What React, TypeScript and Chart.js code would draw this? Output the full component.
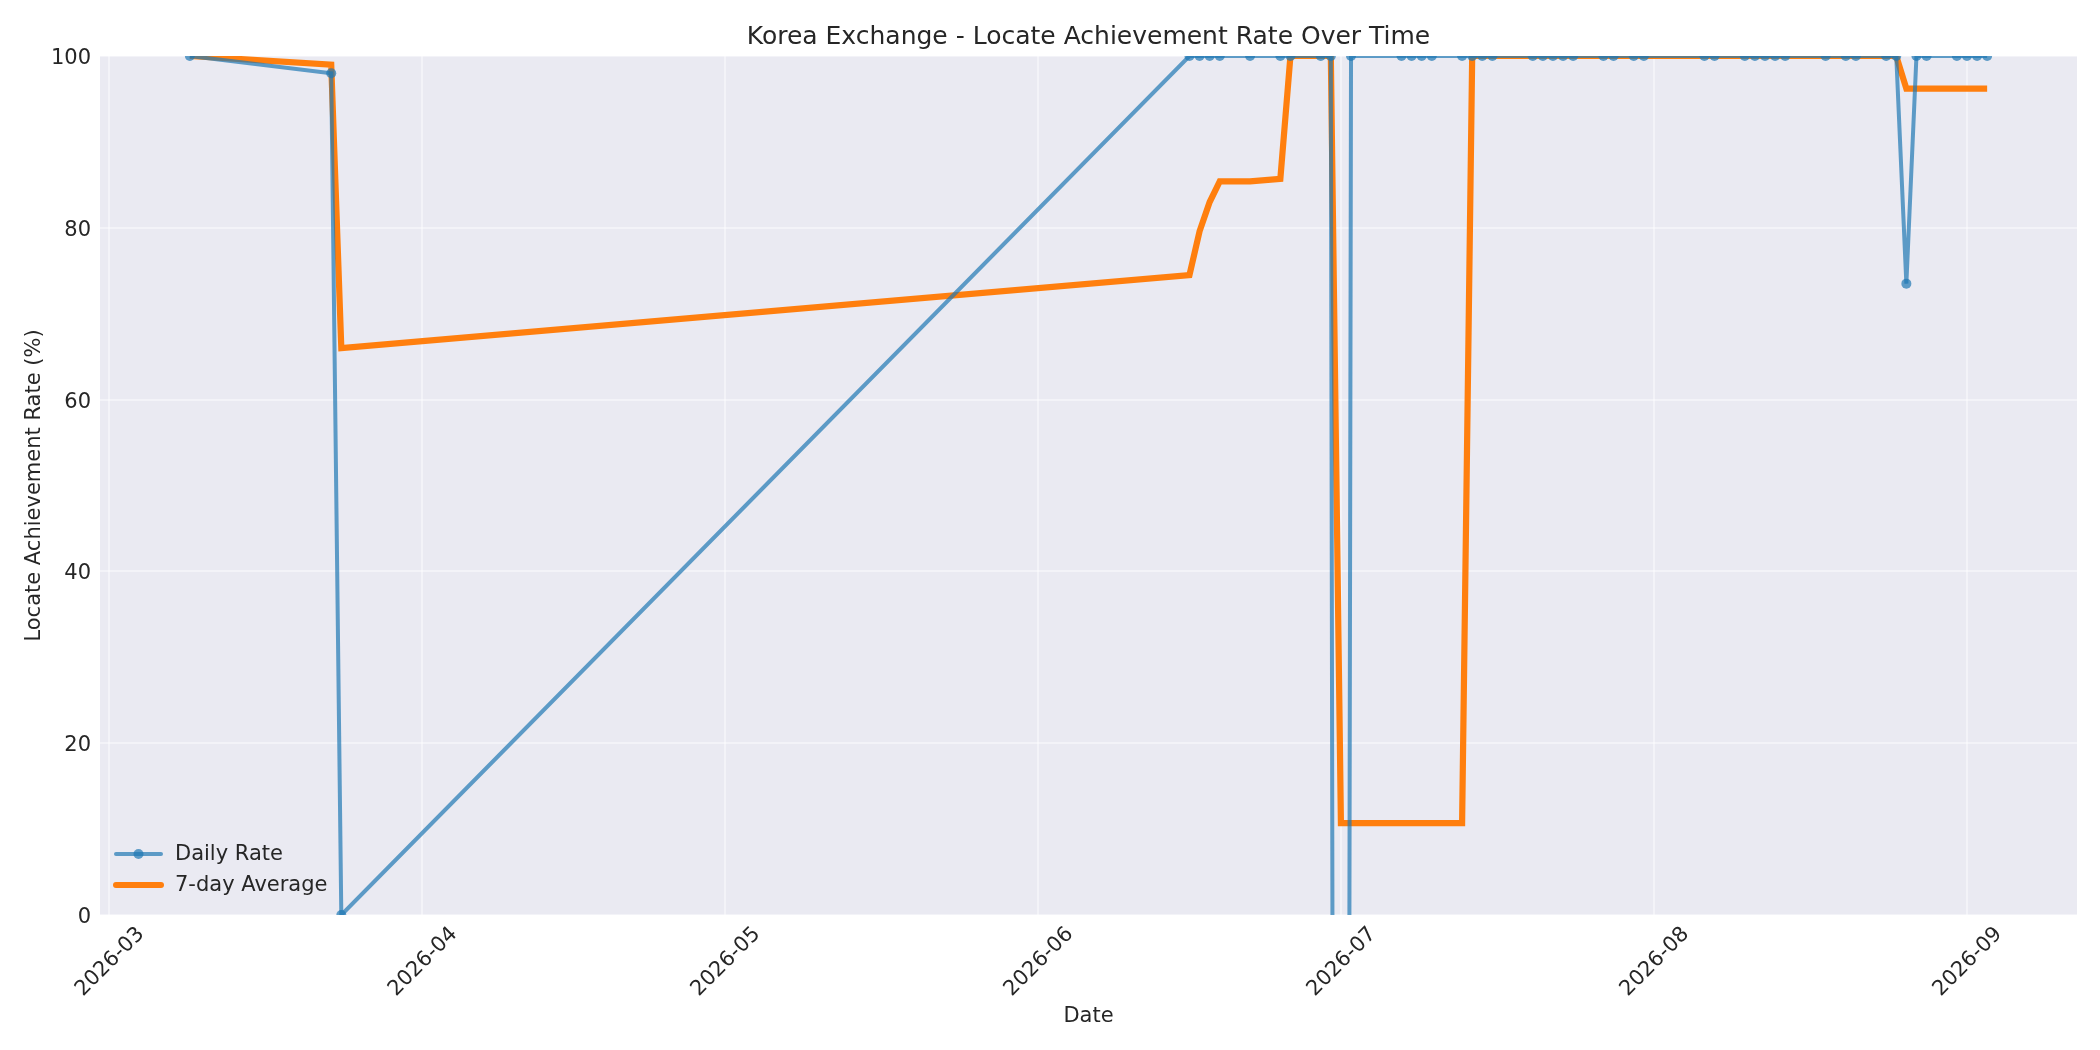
import React, { useEffect, useRef } from "react";
import { Chart, registerables } from "chart.js";

Chart.register(...registerables);

// trading days shown on the chart
const DATES = [
  "2026-03-09", "2026-03-23", "2026-03-24",
  "2026-06-16", "2026-06-17", "2026-06-18", "2026-06-19",
  "2026-06-22", "2026-06-25", "2026-06-26",
  "2026-06-29", "2026-06-30", "2026-07-01", "2026-07-02",
  "2026-07-07", "2026-07-08", "2026-07-09", "2026-07-10",
  "2026-07-13", "2026-07-14", "2026-07-15", "2026-07-16",
  "2026-07-20", "2026-07-21", "2026-07-22", "2026-07-23", "2026-07-24",
  "2026-07-27", "2026-07-28", "2026-07-30", "2026-07-31",
  "2026-08-06", "2026-08-07",
  "2026-08-10", "2026-08-11", "2026-08-12", "2026-08-13", "2026-08-14",
  "2026-08-18", "2026-08-20", "2026-08-21",
  "2026-08-24", "2026-08-25", "2026-08-26", "2026-08-27", "2026-08-28",
  "2026-08-31", "2026-09-01", "2026-09-02", "2026-09-03",
];

// daily locate achievement rate (%); Jul 1 falls far below the axis
const DAILY_RATE = [
  100, 98, 0,
  100, 100, 100, 100,
  100, 100, 100,
  100, 100, -525, 100,
  100, 100, 100, 100,
  100, 100, 100, 100,
  100, 100, 100, 100, 100,
  100, 100, 100, 100,
  100, 100,
  100, 100, 100, 100, 100,
  100, 100, 100,
  100, 100, 73.5, 100, 100,
  100, 100, 100, 100,
];

// 7-day average
const AVG_7D = [
  100, 99, 66,
  74.5, 79.6, 83, 85.4,
  85.4, 85.7, 100,
  100, 100, 10.7, 10.7,
  10.7, 10.7, 10.7, 10.7,
  10.7, 100, 100, 100,
  100, 100, 100, 100, 100,
  100, 100, 100, 100,
  100, 100,
  100, 100, 100, 100, 100,
  100, 100, 100,
  100, 100, 96.2, 96.2, 96.2,
  96.2, 96.2, 96.2, 96.2,
];

const X_TICK_LABELS = [
  "2026-03", "2026-04", "2026-05", "2026-06", "2026-07", "2026-08", "2026-09",
];
const Y_TICKS = [0, 20, 40, 60, 80, 100];

const DAY_MS = 86400000;
const toDay = (s: string) => Date.parse(s + "T00:00:00Z") / DAY_MS;

const BLUE = "rgba(31,119,180,0.7)";
const ORANGE = "#ff7f0e";
const TEXT = "#262626";
const GRID = "rgba(255,255,255,0.45)";
const FONT = "'DejaVu Sans', sans-serif";

const plotBackground = {
  id: "plotBackground",
  beforeDraw(chart: Chart) {
    const { ctx, chartArea: a } = chart;
    ctx.save();
    ctx.fillStyle = "#eaeaf2";
    ctx.fillRect(a.left, a.top, a.right - a.left, a.bottom - a.top);
    ctx.restore();
  },
};

// legend sits inside the plot, lower left
const innerLegend = {
  id: "innerLegend",
  afterDatasetsDraw(chart: Chart) {
    const { ctx, chartArea: a } = chart;
    const items = [
      { label: "Daily Rate", color: BLUE, width: 4, marker: true, y: a.bottom - 61 },
      { label: "7-day Average", color: ORANGE, width: 6, marker: false, y: a.bottom - 30 },
    ];
    ctx.save();
    ctx.font = `21px ${FONT}`;
    ctx.textBaseline = "middle";
    for (const it of items) {
      ctx.strokeStyle = it.color;
      ctx.lineWidth = it.width;
      ctx.lineCap = "round";
      ctx.beginPath();
      ctx.moveTo(a.left + 16, it.y);
      ctx.lineTo(a.left + 61, it.y);
      ctx.stroke();
      if (it.marker) {
        ctx.fillStyle = it.color;
        ctx.beginPath();
        ctx.arc(a.left + 38.5, it.y, 5, 0, Math.PI * 2);
        ctx.fill();
      }
      ctx.fillStyle = TEXT;
      ctx.fillText(it.label, a.left + 75, it.y + 1);
    }
    ctx.restore();
  },
};

export default function App() {
  const canvasRef = useRef<HTMLCanvasElement>(null);
  const chartRef = useRef<Chart | null>(null);

  useEffect(() => {
    if (!canvasRef.current) return;
    chartRef.current?.destroy();

    Chart.defaults.font.family = FONT;
    Chart.defaults.color = TEXT;

    const xs = DATES.map(toDay);
    const first = xs[0];
    const last = xs[xs.length - 1];
    const margin = (last - first) * 0.05;
    const xTickValues = X_TICK_LABELS.map((m) => toDay(m + "-01"));

    chartRef.current = new Chart(canvasRef.current, {
      type: "line",
      data: {
        datasets: [
          {
            label: "Daily Rate",
            data: xs.map((x, i) => ({ x, y: DAILY_RATE[i] })),
            borderColor: BLUE,
            backgroundColor: BLUE,
            borderWidth: 4,
            pointRadius: 5,
            pointBorderWidth: 0,
            pointBackgroundColor: BLUE,
            tension: 0,
          },
          {
            label: "7-day Average",
            data: xs.map((x, i) => ({ x, y: AVG_7D[i] })),
            borderColor: ORANGE,
            backgroundColor: ORANGE,
            borderWidth: 6.2,
            pointRadius: 0,
            tension: 0,
          },
        ],
      },
      options: {
        animation: false,
        responsive: true,
        maintainAspectRatio: false,
        layout: { padding: { left: 0, right: 23, top: 0, bottom: 0 } },
        plugins: {
          legend: { display: false },
          tooltip: { enabled: false },
          title: {
            display: true,
            fullSize: false,
            text: "Korea Exchange - Locate Achievement Rate Over Time",
            color: TEXT,
            font: { size: 25, weight: "normal" },
            padding: { top: 22, bottom: 4 },
          },
        },
        scales: {
          x: {
            type: "linear",
            min: first - margin,
            max: last + margin,
            afterBuildTicks: (scale) => {
              scale.ticks = xTickValues.map((value) => ({ value }));
            },
            afterFit: (scale) => {
              scale.height = 135;
            },
            ticks: {
              callback: (_v, i) => X_TICK_LABELS[i],
              autoSkip: false,
              minRotation: 45,
              maxRotation: 45,
              labelOffset: 32,
              padding: 7,
              color: TEXT,
              font: { size: 21 },
            },
            grid: { color: GRID, lineWidth: 2, drawTicks: false },
            border: { display: false },
            title: {
              display: true,
              text: "Date",
              color: TEXT,
              font: { size: 21 },
              padding: { top: 0, bottom: 21 },
            },
          },
          y: {
            min: 0,
            max: 100,
            afterBuildTicks: (scale) => {
              scale.ticks = Y_TICKS.map((value) => ({ value }));
            },
            afterFit: (scale) => {
              scale.width = 100;
            },
            ticks: {
              padding: 9,
              labelOffset: 2.5,
              color: TEXT,
              font: { size: 21 },
            },
            grid: { color: GRID, lineWidth: 2, drawTicks: false },
            border: { display: false },
            title: {
              display: true,
              text: "Locate Achievement Rate (%)",
              color: TEXT,
              font: { size: 21 },
              padding: { top: 21.5, bottom: 0 },
            },
          },
        },
      },
      plugins: [plotBackground, innerLegend],
    });

    return () => {
      chartRef.current?.destroy();
      chartRef.current = null;
    };
  }, []);

  return (
    <div style={{ position: "absolute", left: 0, top: 0, width: 2100, height: 1050, background: "#fff" }}>
      <canvas
        ref={canvasRef}
        role="img"
        aria-label="Korea Exchange locate achievement rate over time"
      />
    </div>
  );
}
